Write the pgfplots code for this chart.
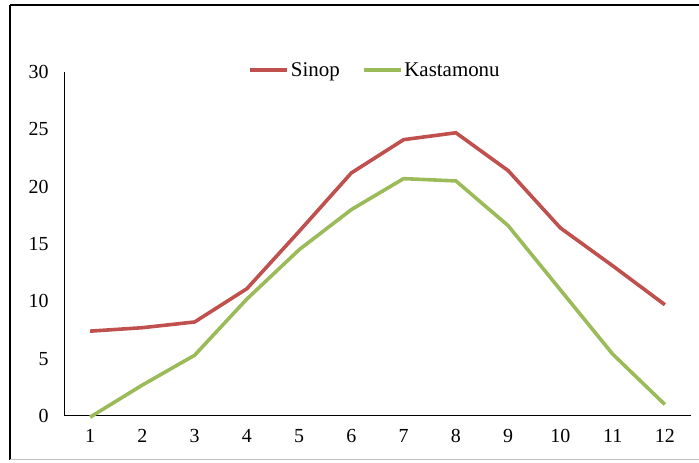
\documentclass[border=0pt]{standalone}
\usepackage{pgfplots}
\pgfplotsset{compat=1.18}
\usepackage{fontspec}
\setmainfont{Liberation Serif}
\definecolor{sinopred}{HTML}{C0504D}
\definecolor{kastgreen}{HTML}{9BBB59}
\begin{document}
\begin{tikzpicture}[x=1bp,y=1bp]
\useasboundingbox (0,0) rectangle (699,463);
\draw[black,line width=2bp] (10,458) -- (699,458);
\draw[black,line width=2bp] (10,458) -- (10,3);
\draw[gray!50,line width=1.5bp] (10,3.5) -- (699,3.5);
\begin{axis}[
  at={(64bp,47bp)}, anchor=south west,
  scale only axis, width=627bp, height=344bp,
  xmin=0.5, xmax=12.5, ymin=0, ymax=30,
  axis x line*=bottom, axis y line*=left,
  axis line style={black, line width=1bp},
  x axis line style={-}, y axis line style={-},
  xtick={1,...,12}, ytick={0,5,...,30},
  major tick length=0pt,
  font=\rmfamily\fontsize{20}{24}\selectfont,
  /pgf/number format/assume math mode=true,
  xticklabel style={yshift=-10bp},
  yticklabel style={xshift=-12bp},
  clip=false,
  legend columns=2,
  legend style={draw=none, fill=none, at={(0.496,1.006)}, anchor=center,
    /tikz/every even column/.append style={column sep=20bp},
    font=\rmfamily\fontsize{21}{24}\selectfont, inner sep=0pt},
  legend image code/.code={\draw[#1] (0bp,0bp) -- (37bp,0bp);},
]
\addplot[sinopred, line width=3.6bp] coordinates {
(1,7.4) (2,7.7) (3,8.2) (4,11.1) (5,16.1) (6,21.2) (7,24.1) (8,24.7) (9,21.4) (10,16.4) (11,13.1) (12,9.7)};
\addlegendentry{Sinop}
\addplot[kastgreen, line width=3.6bp] coordinates {
(1,-0.1) (2,2.7) (3,5.3) (4,10.2) (5,14.5) (6,18.0) (7,20.7) (8,20.5) (9,16.6) (10,11.0) (11,5.4) (12,1.0)};
\addlegendentry{Kastamonu}
\end{axis}
\end{tikzpicture}
\end{document}
